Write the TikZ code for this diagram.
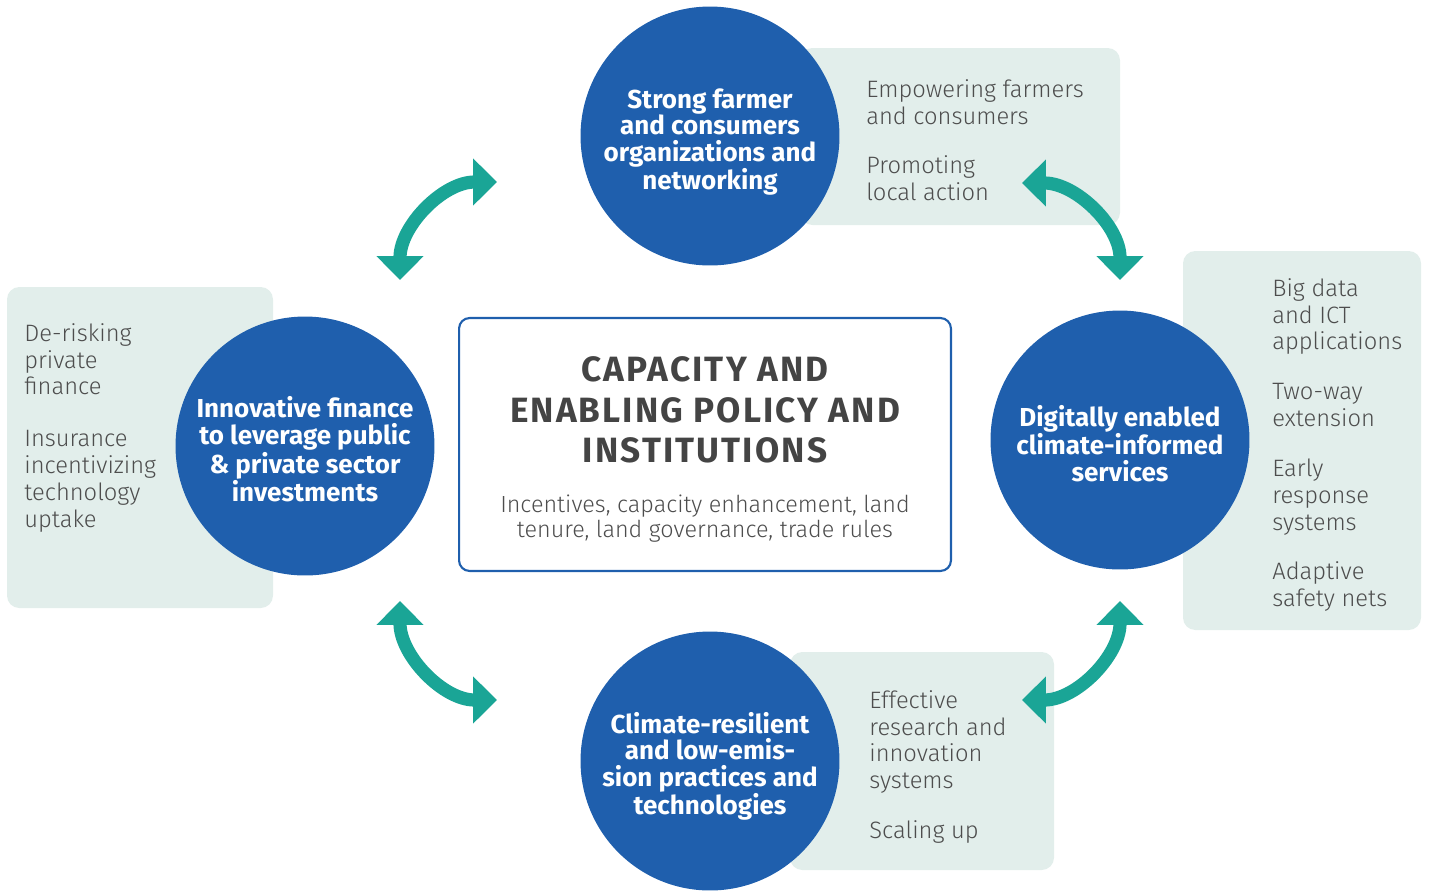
\documentclass[tikz,border=0pt]{standalone}
\usepackage{fontspec}
\setmainfont{Fira Sans}[UprightFont=* Light, BoldFont=* Bold]
\usetikzlibrary{arrows.meta, positioning}
\definecolor{CBlue}{HTML}{1F5FAD}
\definecolor{CTeal}{HTML}{1AA596}
\definecolor{CPanel}{HTML}{E2EEEB}
\definecolor{CText}{HTML}{4D4D4D}
\definecolor{CTitle}{HTML}{444444}

\begin{document}
\begin{tikzpicture}[x=0.02cm, y=0.02cm,
    circ/.style={circle, fill=CBlue, minimum size=5.18cm, inner sep=0pt},
    ctext/.style={align=center, inner sep=0pt, text=white,
        font=\bfseries\fontsize{14.8}{15.1}\selectfont},
    panel/.style={fill=CPanel, rounded corners=7pt},
    ptext/.style={anchor=north west, inner sep=0pt, align=left, text=CText,
        font=\fontsize{13.5}{15.3}\selectfont},
    arr/.style={draw=CTeal, line width=7.5pt,
        {Triangle[length=13.6pt,width=26pt]}-{Triangle[length=13.6pt,width=26pt]}}]
    \useasboundingbox (0,0) rectangle (1429,-890);

    % Side panels
    \fill[panel] (800,-48) rectangle (1120,-225);
    \fill[panel] (7,-287) rectangle (273,-608);
    \fill[panel] (1183,-251) rectangle (1421,-630);
    \fill[panel] (790,-652) rectangle (1054,-870);

    % Panel texts
    \node[ptext] (farmer-txt) at (866,-79) {Empowering farmers\\and consumers\\[13pt]Promoting\\local action};
    \node[ptext] (finance-txt) at (24,-323) {De-risking\\private\\finance\\[14pt]Insurance\\incentivizing\\technology\\uptake};
    \node[ptext] (digital-txt) at (1272,-278) {Big data\\and ICT\\applications\\[13pt]Two-way\\extension\\[13pt]Early\\response\\systems\\[13pt]Adaptive\\safety nets};
    \node[ptext] (climate-txt) at (869,-690) {Effective\\research and\\innovation\\systems\\[13pt]Scaling up};

    % Circles
    \node[circ] (farmer) at (710,-136) {};
    \node[circ] (finance) at (305,-446) {};
    \node[circ] (digital) at (1120,-440) {};
    \node[circ] (climate) at (710,-761) {};
    \node[ctext] at ([yshift=-3.5pt]farmer.center) {Strong farmer\\and consumers\\organizations and\\networking};
    \node[ctext] at ([yshift=-2pt]finance.center) {Innovative finance\\to leverage public\\\& private sector\\investments};
    \node[ctext] at ([yshift=-2pt]digital.center) {Digitally enabled\\climate-informed\\services};
    \node[ctext] at ([yshift=-3pt]climate.center) {Climate-resilient\\and low-emis-\\sion practices and\\technologies};

    % Centre box
    \node[draw=CBlue, line width=1.2pt, rounded corners=6pt, minimum width=9.84cm,
        minimum height=5.06cm] (capacity) at (705,-444.5) {};
    \node[align=center, text=CTitle,
        font=\bfseries\fontsize{20}{23.2}\selectfont\addfontfeatures{LetterSpace=6}]
        (capacity-title) at (705,-410) {CAPACITY AND\\ENABLING POLICY AND\\INSTITUTIONS};
    \node[align=center, text=CText, font=\fontsize{13.3}{14.7}\selectfont, below=10.5pt of capacity-title]
        (capacity-sub) {Incentives, capacity enhancement, land\\tenure, land governance, trade rules};

    % Arrow ends
    \coordinate (tlA) at (400,-280);
    \coordinate (tlB) at (497,-182);
    \coordinate (trA) at (1022,-183);
    \coordinate (trB) at (1120,-280);
    \coordinate (blA) at (400,-601);
    \coordinate (blB) at (497,-700);
    \coordinate (brA) at (1022,-700);
    \coordinate (brB) at (1120,-601);

    % Arrows
    \draw[arr] (tlA) to[out=90, in=180] (tlB);
    \draw[arr] (trA) to[out=0, in=90] (trB);
    \draw[arr] (blA) to[out=-90, in=180] (blB);
    \draw[arr] (brA) to[out=0, in=-90] (brB);
\end{tikzpicture}
\end{document}
